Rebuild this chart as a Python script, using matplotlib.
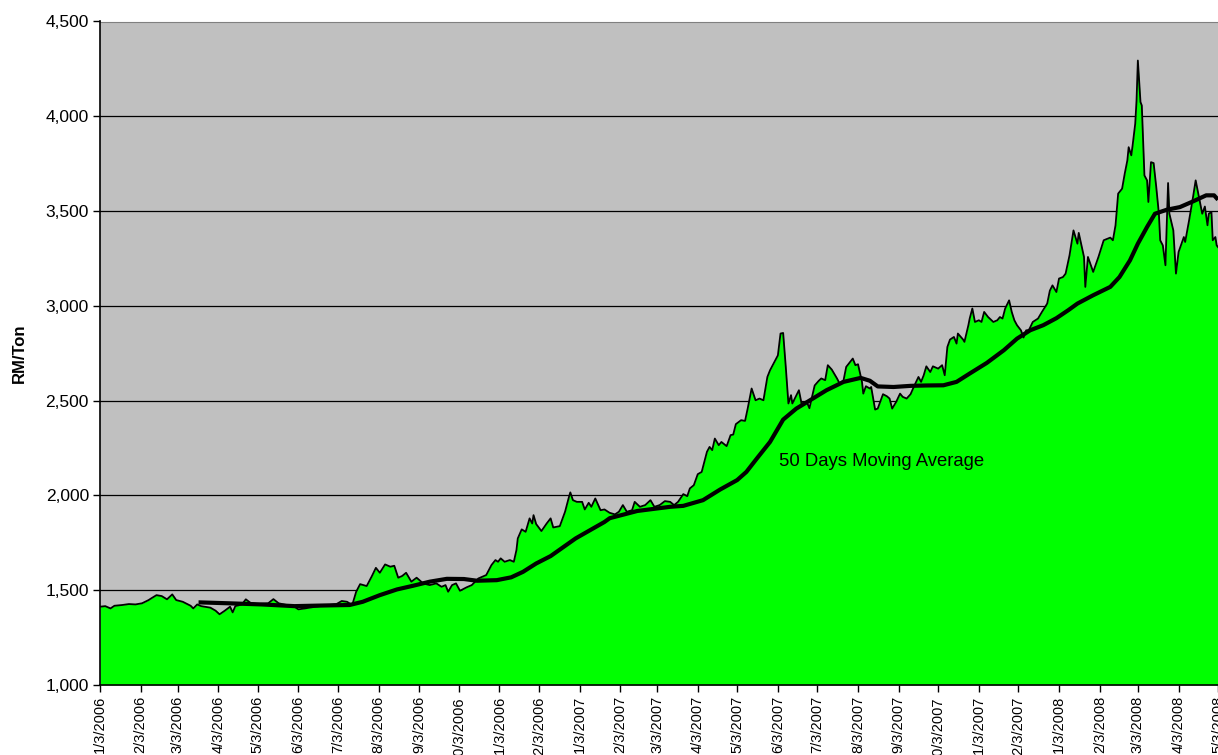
import matplotlib
matplotlib.use("Agg")
import matplotlib.pyplot as plt
import matplotlib.ticker as mticker
import pandas as pd

plt.rcParams['font.family'] = ['Liberation Sans', 'DejaVu Sans']

start = pd.Timestamp('2006-01-03')

# daily price, days counted from 1/3/2006
price_day = [0, 4, 8, 11, 17, 22, 27, 32, 37, 39, 43, 47, 51, 55, 58, 63, 69, 71, 74, 77,
             84, 88, 91, 95, 99, 101, 103, 108, 111, 115, 120, 128, 132, 136, 142, 148, 151, 156, 164, 174,
             180, 184, 188, 192, 195, 198, 203, 207, 210, 213, 217, 221, 224, 227, 230, 233, 237, 241, 246, 251,
             256, 260, 263, 265, 268, 271, 274, 279, 283, 288, 294, 298, 301, 303, 305, 308, 312, 315, 317, 318,
             321, 324, 327, 329, 330, 332, 336, 340, 343, 345, 350, 354, 357, 358, 360, 363, 367, 369, 372, 374,
             377, 381, 384, 388, 392, 395, 398, 401, 405, 407, 411, 415, 419, 422, 426, 430, 434, 437, 440, 444,
             447, 449, 452, 455, 458, 462, 464, 466, 468, 471, 473, 477, 480, 482, 484, 488, 491, 493, 496, 499,
             502, 505, 508, 510, 513, 516, 518, 520, 522, 524, 526, 527, 532, 534, 538, 540, 544, 547, 549, 552,
             554, 557, 561, 563, 566, 568, 573, 575, 577, 580, 581, 583, 586, 587, 590, 592, 596, 599, 601, 603,
             606, 609, 611, 614, 617, 620, 623, 625, 627, 629, 632, 634, 638, 641, 643, 645, 647, 650, 652, 653,
             657, 658, 661, 662, 664, 666, 669, 671, 673, 676, 680, 683, 685, 687, 689, 692, 694, 696, 698, 701,
             703, 705, 707, 710, 714, 717, 721, 723, 725, 728, 730, 733, 735, 738, 741, 744, 745, 749, 750, 752,
             756, 760, 764, 769, 771, 773, 775, 778, 780, 782, 783, 785, 786, 788, 789, 790, 792, 793, 795, 797,
             798, 800, 802, 804, 806, 807, 809, 811, 813, 814, 817, 819, 821, 825, 826, 829, 832, 834, 837, 839,
             841, 843, 844, 846, 847, 849, 850, 851]
price = [1413, 1416, 1404, 1418, 1422, 1427, 1425, 1431, 1448, 1457, 1474, 1469, 1452, 1478, 1448, 1439, 1418, 1404, 1425, 1416,
         1408, 1392, 1373, 1392, 1413, 1383, 1416, 1425, 1452, 1431, 1427, 1431, 1453, 1431, 1422, 1413, 1399, 1404, 1413, 1422,
         1427, 1443, 1439, 1422, 1492, 1532, 1522, 1575, 1618, 1592, 1636, 1624, 1629, 1566, 1575, 1592, 1545, 1566, 1536, 1527,
         1536, 1518, 1527, 1492, 1527, 1536, 1497, 1515, 1527, 1562, 1580, 1633, 1659, 1650, 1668, 1650, 1659, 1650, 1712, 1773,
         1821, 1808, 1879, 1852, 1896, 1849, 1812, 1852, 1879, 1831, 1838, 1914, 1993, 2016, 1975, 1966, 1966, 1926, 1961, 1940,
         1984, 1922, 1926, 1908, 1900, 1914, 1949, 1914, 1922, 1966, 1940, 1949, 1975, 1940, 1949, 1970, 1966, 1949, 1966, 2007,
         1996, 2037, 2054, 2112, 2124, 2230, 2256, 2239, 2300, 2265, 2282, 2260, 2318, 2321, 2376, 2397, 2393, 2458, 2564, 2502,
         2511, 2502, 2625, 2660, 2699, 2739, 2854, 2857, 2678, 2485, 2529, 2485, 2555, 2485, 2493, 2460, 2580, 2604, 2617, 2608,
         2687, 2664, 2617, 2590, 2608, 2678, 2722, 2687, 2692, 2599, 2537, 2576, 2564, 2572, 2453, 2458, 2534, 2523, 2511, 2458,
         2493, 2537, 2520, 2511, 2534, 2581, 2625, 2599, 2634, 2681, 2651, 2681, 2669, 2687, 2634, 2783, 2822, 2836, 2801, 2854,
         2822, 2810, 2898, 2933, 2986, 2915, 2924, 2915, 2968, 2941, 2915, 2924, 2941, 2933, 2986, 3029, 2968, 2924, 2898, 2871,
         2833, 2871, 2871, 2915, 2933, 2968, 3012, 3080, 3108, 3073, 3144, 3152, 3170, 3267, 3398, 3328, 3385, 3258, 3100, 3258,
         3179, 3258, 3346, 3360, 3346, 3425, 3592, 3618, 3697, 3767, 3837, 3794, 3846, 3961, 4084, 4294, 4075, 4057, 3688, 3662,
         3548, 3758, 3753, 3627, 3486, 3346, 3319, 3214, 3648, 3486, 3398, 3170, 3284, 3363, 3337, 3451, 3574, 3662, 3556, 3486,
         3524, 3425, 3486, 3495, 3346, 3363, 3319, 3310]

# 50 days moving average
ma_day = [75, 98, 123, 148, 174, 190, 200, 213, 226, 238, 251, 264, 277, 287, 302, 313, 322, 332, 343, 353,
          362, 365, 384, 388, 409, 434, 444, 459, 472, 485, 492, 500, 510, 520, 530, 540, 553, 566, 579, 586,
          592, 604, 617, 629, 642, 652, 662, 675, 688, 698, 708, 718, 728, 737, 744, 756, 769, 776, 784, 790,
          797, 803, 812, 822, 831, 842, 848, 851]
ma = [1436, 1431, 1425, 1416, 1420, 1422, 1439, 1474, 1504, 1523, 1545, 1560, 1559, 1550, 1553, 1568, 1597, 1641, 1680, 1729,
      1773, 1785, 1860, 1880, 1918, 1940, 1945, 1975, 2031, 2081, 2124, 2195, 2282, 2400, 2458, 2500, 2555, 2599, 2620, 2605,
      2575, 2572, 2578, 2580, 2581, 2599, 2643, 2699, 2766, 2827, 2871, 2898, 2935, 2977, 3012, 3056, 3100, 3152, 3240, 3328,
      3416, 3486, 3507, 3521, 3548, 3583, 3583, 3560]

tick_dates = pd.date_range('2006-01-03', '2008-05-03', freq=pd.DateOffset(months=1))
tick_labels = [f"{d.month}/{d.day}/{d.year}" for d in tick_dates]

x_price = start + pd.to_timedelta(price_day, unit='D')
x_ma = start + pd.to_timedelta(ma_day, unit='D')

fig = plt.figure(figsize=(12.18, 7.55), dpi=100)
ax = fig.add_axes([100 / 1218, 1 - 685 / 755, 1 - 100 / 1218, (685 - 21.5) / 755])
ax.set_facecolor('#C0C0C0')

ax.fill_between(x_price, price, 1000, color='#00FF00', lw=0, zorder=2)
ax.plot(x_price, price, color='black', lw=1.3, zorder=3)
ax.plot(x_ma, ma, color='black', lw=3, zorder=4, solid_capstyle='butt')

ax.text(start + pd.Timedelta(days=517), 2181, '50 Days Moving Average',
        fontsize=13.3, va='center', ha='left', zorder=5)

ax.set_ylim(1000, 4500)
ax.set_xlim(start, pd.Timestamp('2008-05-03'))
ax.yaxis.set_major_locator(mticker.MultipleLocator(500))
ax.yaxis.set_major_formatter(mticker.FuncFormatter(lambda v, p: f"{v:,.0f}"))
ax.set_xticks(tick_dates)
ax.set_xticklabels(tick_labels, rotation=90, va='top', ha='center')
ax.tick_params(axis='x', labelsize=10.5, length=5, width=1, direction='out', pad=3)
ax.tick_params(axis='y', labelsize=12.5, length=5, width=1, direction='out', pad=3)

ax.set_axisbelow(True)
ax.yaxis.grid(True, color='black', lw=0.9)
ax.xaxis.grid(False)

for s in ['left', 'bottom']:
    ax.spines[s].set_color('black')
    ax.spines[s].set_linewidth(1.2)
    ax.spines[s].set_zorder(6)
ax.spines['top'].set_color('#808080')
ax.spines['right'].set_visible(False)

ax.set_ylabel('RM/Ton', fontsize=12, fontweight='bold')
ax.yaxis.set_label_coords(-73 / 1118, 0.5)

fig.savefig('out.png', dpi=100)
